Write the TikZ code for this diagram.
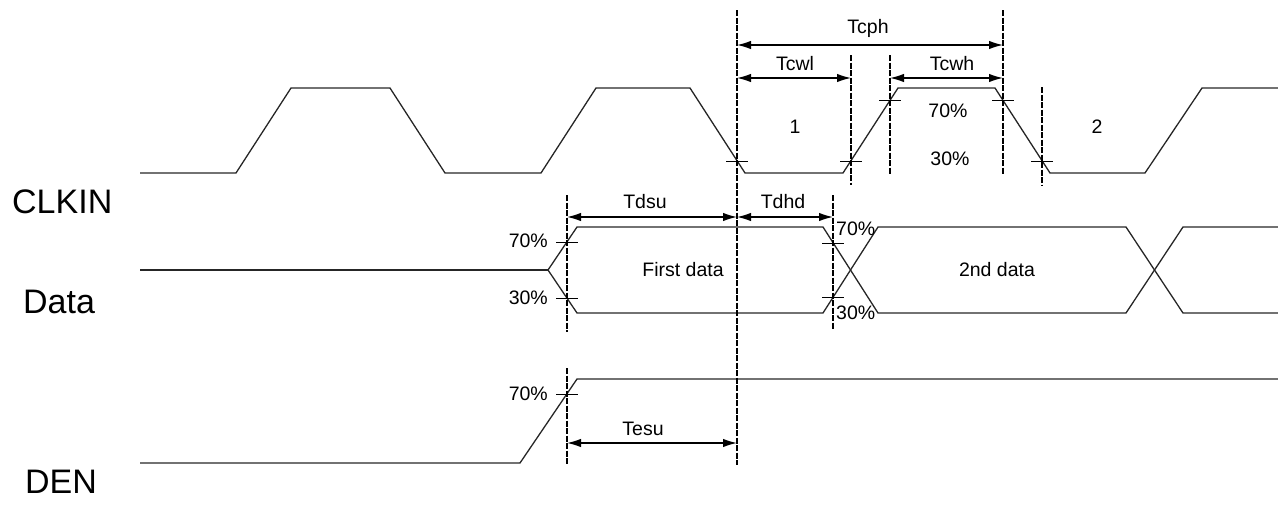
\documentclass[tikz,border=0pt]{standalone}
\usepackage{fontspec}
\setmainfont{Liberation Sans}
\usetikzlibrary{arrows.meta}
\begin{document}
\begin{tikzpicture}[x=1pt,y=-1pt,
  wave/.style={line width=1.3pt, black!85},
  vline/.style={line width=1.1pt, dash pattern=on 6pt off 1.5pt},
  vthick/.style={line width=1.8pt, dash pattern=on 6pt off 1.5pt},
  dim/.style={line width=1.4pt, {Latex[length=14pt,width=8.5pt]}-{Latex[length=14pt,width=8.5pt]}},
  tickmark/.style={line width=1pt},
  lbl/.style={font=\fontsize{19.5}{19.5}\selectfont, inner sep=0pt},
  big/.style={font=\fontsize{34}{34}\selectfont, inner sep=0pt, anchor=base west}]
\useasboundingbox (0,0) rectangle (1278,506);

% signal names
\node[big] (nclk) at (12,213) {CLKIN};
\node[big] (ndata) at (23,313) {Data};
\node[big] (nden) at (25,493) {DEN};

% CLKIN waveform
\draw[wave] (140,173) -- (236,173) -- (291,88) -- (390,88) -- (445,173) -- (541,173)
  -- (596,88) -- (690,88) -- (745,173) -- (843,173) -- (898,88) -- (995,88)
  -- (1050,173) -- (1145,173) -- (1202,88) -- (1278,88);

% Data waveform
\draw[wave] (140,270) -- (548,270);
\draw[wave] (548,270) -- (577,227) -- (823,227) -- (878,313) -- (1126,313) -- (1183,227) -- (1278,227);
\draw[wave] (548,270) -- (577,313) -- (823,313) -- (878,227) -- (1126,227) -- (1183,313) -- (1278,313);

% DEN waveform
\draw[wave] (140,463) -- (520,463) -- (577,379) -- (1278,379);

% vertical reference lines
\coordinate (v1t) at (737,10);  \coordinate (v1b) at (737,465);
\coordinate (v2t) at (567,195); \coordinate (v2b) at (567,332);
\coordinate (v3t) at (567,368); \coordinate (v3b) at (567,465);
\coordinate (v4t) at (833,195); \coordinate (v4b) at (833,330);
\coordinate (v5t) at (851,55);  \coordinate (v5b) at (851,185);
\coordinate (v6t) at (890,55);  \coordinate (v6b) at (890,175);
\coordinate (v7t) at (1003,10); \coordinate (v7b) at (1003,175);
\coordinate (v8t) at (1042,87); \coordinate (v8b) at (1042,185);
\draw[vline] (v1t) -- (v1b);
\draw[vthick] (v2t) -- (v2b);
\draw[vthick] (v3t) -- (v3b);
\draw[vthick] (v4t) -- (v4b);
\draw[vline] (v5t) -- (v5b);
\draw[vthick] (v6t) -- (v6b);
\draw[vthick] (v7t) -- (v7b);
\draw[vline] (v8t) -- (v8b);

% tick marks at threshold crossings
\foreach \x/\y in {737/161, 851/161, 890/100, 1003/100, 1042/161,
                   567/242, 567/298, 833/243, 833/297, 567/394}
  \draw[tickmark] (\x-11,\y) -- (\x+11,\y);

% dimension arrows
\coordinate (a1) at (737,45);  \coordinate (b1) at (1003,45);
\coordinate (a2) at (737,78);  \coordinate (b2) at (851,78);
\coordinate (a3) at (890,78);  \coordinate (b3) at (1003,78);
\coordinate (a4) at (567,217); \coordinate (b4) at (737,217);
\coordinate (a5) at (737,217); \coordinate (b5) at (833,217);
\coordinate (a6) at (567,443); \coordinate (b6) at (737,443);
\draw[dim] (a1) -- (b1);
\draw[dim] (a2) -- (b2);
\draw[dim] (a3) -- (b3);
\draw[dim] (a4) -- (b4);
\draw[dim] (a5) -- (b5);
\draw[dim] (a6) -- (b6);

% labels
\node[lbl] (tcph) at (868,28) {Tcph};
\node[lbl] (tcwl) at (795,64) {Tcwl};
\node[lbl] (tcwh) at (952,64) {Tcwh};
\node[lbl] (tdsu) at (645,202) {Tdsu};
\node[lbl] (tdhd) at (783,202) {Tdhd};
\node[lbl] (tesu) at (643,429) {Tesu};
\node[lbl] (one) at (795,127) {1};
\node[lbl] (two) at (1097,127) {2};
\node[lbl] (c70) at (948,111) {70\%};
\node[lbl] (c30) at (950,159) {30\%};
\node[lbl, anchor=east] (d70) at (548,241) {70\%};
\node[lbl, anchor=east] (d30) at (548,298) {30\%};
\node[lbl, anchor=west] (e70) at (836,229) {70\%};
\node[lbl, anchor=west] (e30) at (836,313) {30\%};
\node[lbl, anchor=east] (f70) at (548,394) {70\%};
\node[lbl] (first) at (683,270) {First data};
\node[lbl] (second) at (997,270) {2nd data};
\end{tikzpicture}
\end{document}
